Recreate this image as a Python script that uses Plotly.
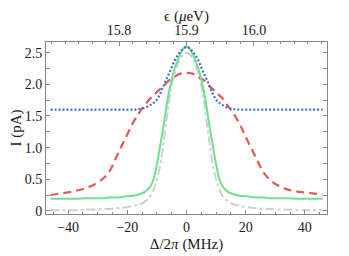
import plotly.graph_objects as go

# Detuning (MHz)
delta = [-46, -42, -38, -34, -31, -28, -26, -24, -22, -20, -18, -16, -14, -12, -11, -10, -9, -8, -7, -6, -5, -4, -3, -2, -1, 0,
         1, 2, 3, 4, 5, 6, 7, 8, 9, 10, 11, 12, 14, 16, 18, 20, 22, 24, 26, 28, 31, 34, 38, 42, 46]

red = [0.25, 0.28, 0.31, 0.36, 0.42, 0.52, 0.63, 0.82, 1.02, 1.21, 1.40, 1.55, 1.68, 1.79, 1.83, 1.88, 1.92, 1.96, 2.01, 2.06, 2.09, 2.12, 2.15, 2.17, 2.18, 2.18,
       2.18, 2.17, 2.15, 2.12, 2.09, 2.06, 2.01, 1.96, 1.92, 1.88, 1.83, 1.79, 1.66, 1.53, 1.37, 1.17, 0.98, 0.79, 0.61, 0.50, 0.40, 0.34, 0.30, 0.28, 0.26]

blue = [1.60, 1.60, 1.60, 1.60, 1.60, 1.60, 1.60, 1.60, 1.60, 1.60, 1.60, 1.61, 1.63, 1.68, 1.71, 1.76, 1.84, 1.95, 2.06, 2.16, 2.27, 2.38, 2.46, 2.52, 2.57, 2.59,
        2.57, 2.52, 2.46, 2.38, 2.27, 2.16, 2.06, 1.95, 1.84, 1.76, 1.71, 1.68, 1.63, 1.61, 1.60, 1.60, 1.60, 1.60, 1.60, 1.60, 1.60, 1.60, 1.60, 1.60, 1.60]

green = [0.19, 0.19, 0.19, 0.20, 0.20, 0.20, 0.21, 0.21, 0.22, 0.23, 0.24, 0.26, 0.30, 0.40, 0.52, 0.74, 1.00, 1.28, 1.58, 1.86, 2.08, 2.25, 2.38, 2.49, 2.57, 2.60,
         2.57, 2.49, 2.38, 2.25, 2.08, 1.86, 1.58, 1.28, 1.00, 0.74, 0.52, 0.40, 0.30, 0.26, 0.24, 0.23, 0.22, 0.21, 0.21, 0.20, 0.20, 0.20, 0.19, 0.19, 0.19]

gray = [0.01, 0.01, 0.01, 0.02, 0.02, 0.03, 0.03, 0.04, 0.05, 0.06, 0.08, 0.10, 0.15, 0.25, 0.35, 0.50, 0.70, 1.00, 1.35, 1.70, 1.98, 2.17, 2.32, 2.42, 2.48, 2.50,
        2.48, 2.42, 2.32, 2.17, 1.98, 1.70, 1.35, 1.00, 0.70, 0.50, 0.35, 0.25, 0.15, 0.10, 0.08, 0.06, 0.05, 0.04, 0.03, 0.03, 0.02, 0.02, 0.01, 0.01, 0.01]

x_ticks = [-40, -20, 0, 20, 40]
x_ticktext = ["\u221240", "\u221220", "0", "20", "40"]
y_ticks = [0, 0.5, 1.0, 1.5, 2.0, 2.5]
y_ticktext = ["0", "0.5", "1.0", "1.5", "2.0", "2.5"]
eps_ticks = [15.8, 15.9, 16.0]
eps_ticktext = ["15.8", "15.9", "16.0"]

x_range = [-47.5, 47.5]
eps_center = 15.9
eps_per_mhz = 0.004385
eps_range = [eps_center + x_range[0] * eps_per_mhz, eps_center + x_range[1] * eps_per_mhz]

font = "Liberation Serif"
frame = "#888888"

fig = go.Figure()
fig.add_trace(go.Scatter(x=delta, y=gray, mode="lines", line=dict(color="#d0d0d0", width=2, dash="dashdot", shape="spline"), showlegend=False))
fig.add_trace(go.Scatter(x=delta, y=red, mode="lines", line=dict(color="#e05a5a", width=2.2, dash="8px,5px", shape="spline"), showlegend=False))
fig.add_trace(go.Scatter(x=delta, y=green, mode="lines", line=dict(color="#72e08e", width=2, shape="spline"), showlegend=False))
fig.add_trace(go.Scatter(x=delta, y=blue, mode="lines", line=dict(color="#3f6fd6", width=2.2, dash="2px,2px", shape="spline"), showlegend=False))
fig.add_trace(go.Scatter(x=[eps_center], y=[None], xaxis="x2", mode="lines", showlegend=False, hoverinfo="skip"))

axis_common = dict(showgrid=False, zeroline=False, showline=True, linecolor=frame, linewidth=1, automargin=False,
                   ticks="inside", tickcolor=frame, ticklen=4, tickfont=dict(family=font, size=14, color="#1a1a1a"))

# The page body adds an 8px offset; the figure is sized so it ends at the window edge.
fig.update_layout(
    width=341, height=248,
    margin=dict(l=38, r=22, t=34, b=42),
    paper_bgcolor="white", plot_bgcolor="white",
    font=dict(family=font, size=14, color="#1a1a1a"),
    xaxis=dict(range=x_range, tickvals=x_ticks, ticktext=x_ticktext,
               minor=dict(dtick=5, ticks="inside", ticklen=2, tickcolor=frame),
               title=dict(text="\u0394/2<i>\u03c0</i> (MHz)", font=dict(family=font, size=15), standoff=4),
               **axis_common),
    xaxis2=dict(range=eps_range, overlaying="x", side="top", tickvals=eps_ticks, ticktext=eps_ticktext,
                minor=dict(dtick=0.02, tick0=15.8, ticks="inside", ticklen=2, tickcolor=frame),
                title=dict(text="\u03f5 (<i>\u03bc</i>eV)", font=dict(family=font, size=15), standoff=2),
                **axis_common),
    yaxis=dict(range=[-0.05, 2.67], tickvals=y_ticks, ticktext=y_ticktext, mirror="allticks",
               minor=dict(dtick=0.25, ticks="inside", ticklen=2, tickcolor=frame),
               title=dict(text="I (pA)", font=dict(family=font, size=15), standoff=2),
               **axis_common),
)

fig.write_html("out.html")
